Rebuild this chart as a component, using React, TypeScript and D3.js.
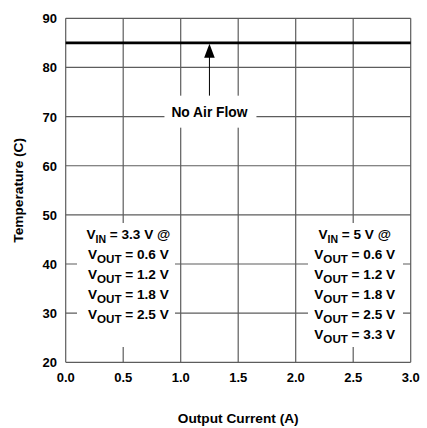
import React from "react";
import * as d3 from "d3";

// axis ticks
const xTicks = [0, 0.5, 1.0, 1.5, 2.0, 2.5, 3.0];
const yTicks = [20, 30, 40, 50, 60, 70, 80, 90];

// the derating limit (flat line) and its annotation
const limitTemp = 85;
const arrowX = 1.25;
const arrowTail = 74.2;
const annotation = "No Air Flow";
const annotationY = 71;

// legend blocks
const leftHeader = { sub: "IN", rest: " = 3.3 V @" };
const leftVout = ["0.6 V", "1.2 V", "1.8 V", "2.5 V"];
const rightHeader = { sub: "IN", rest: " = 5 V @" };
const rightVout = ["0.6 V", "1.2 V", "1.8 V", "2.5 V", "3.3 V"];

const W = 427;
const H = 428;
const margin = { top: 18.3, right: 16.3, bottom: 65.7, left: 65.7 };
const FONT = "'Liberation Sans', Arial, sans-serif";
const GRID = "#5c5c5c";

function Legend({ cx, top, header, vouts }: any) {
  const rows = [
    { sub: header.sub, rest: header.rest },
    ...vouts.map((v: string) => ({ sub: "OUT", rest: " = " + v })),
  ];
  return (
    <g>
      {rows.map((r: any, i: number) => (
        <text
          key={i}
          x={cx}
          y={top + i * 20}
          textAnchor="middle"
          fontFamily={FONT}
          fontWeight="bold"
          fontSize={13.6}
          fill="#000"
        >
          V
          <tspan fontSize={i === 0 ? 10.5 : 11.6} dy={4}>{r.sub}</tspan>
          <tspan dy={-4}>{r.rest}</tspan>
        </text>
      ))}
    </g>
  );
}

export default function App() {
  const x = d3.scaleLinear().domain([0, 3]).range([margin.left, W - margin.right]);
  const y = d3.scaleLinear().domain([20, 90]).range([H - margin.bottom, margin.top]);

  const limitY = y(limitTemp);
  const ax = x(arrowX);

  return (
    <svg
      width={W}
      height={H}
      style={{ position: "absolute", left: 0, top: 0, background: "#fff" }}
    >
      {/* grid */}
      <g stroke={GRID} strokeWidth={1.2}>
        {xTicks.map((t) => (
          <line key={"vx" + t} x1={x(t)} x2={x(t)} y1={y(20)} y2={y(90)} />
        ))}
        {yTicks.map((t) => (
          <line key={"hy" + t} x1={x(0)} x2={x(3)} y1={y(t)} y2={y(t)} />
        ))}
      </g>

      {/* limit line */}
      <line x1={x(0)} x2={x(3)} y1={limitY} y2={limitY} stroke="#000" strokeWidth={2.7} />

      {/* arrow */}
      <line x1={ax} x2={ax} y1={y(arrowTail)} y2={limitY + 14} stroke="#000" strokeWidth={1} />
      <path
        d={`M${ax},${limitY + 1} L${ax - 5.3},${limitY + 15} L${ax + 5.3},${limitY + 15} Z`}
        fill="#000"
      />

      {/* annotation with white mask */}
      <rect x={ax - 45} y={y(annotationY) - 16} width={92} height={32} fill="#fff" />
      <text
        x={ax}
        y={y(annotationY) + 5}
        textAnchor="middle"
        fontFamily={FONT}
        fontWeight="bold"
        fontSize={13.8}
      >
        {annotation}
      </text>

      {/* legend masks */}
      <rect x={77} y={223} width={98} height={124} fill="#fff" />
      <rect x={308} y={223} width={95} height={124} fill="#fff" />
      <Legend cx={x(0.545)} top={y(45.1)} header={leftHeader} vouts={leftVout} />
      <Legend cx={x(2.513)} top={y(45.1)} header={rightHeader} vouts={rightVout} />

      {/* tick labels */}
      <g fontFamily={FONT} fontWeight="bold" fontSize={13}>
        {xTicks.map((t) => (
          <text key={"xt" + t} x={x(t)} y={y(20) + 19.5} textAnchor="middle">
            {t.toFixed(1)}
          </text>
        ))}
        {yTicks.map((t) => (
          <text key={"yt" + t} x={57} y={y(t) + 5} textAnchor="end">
            {t}
          </text>
        ))}
      </g>

      {/* axis titles */}
      <text
        x={(x(0) + x(3)) / 2}
        y={423}
        textAnchor="middle"
        fontFamily={FONT}
        fontWeight="bold"
        fontSize={13.7}
      >
        Output Current (A)
      </text>
      <text
        transform={`translate(23,${(y(20) + y(90)) / 2}) rotate(-90)`}
        textAnchor="middle"
        fontFamily={FONT}
        fontWeight="bold"
        fontSize={13.7}
      >
        Temperature (C)
      </text>
    </svg>
  );
}
